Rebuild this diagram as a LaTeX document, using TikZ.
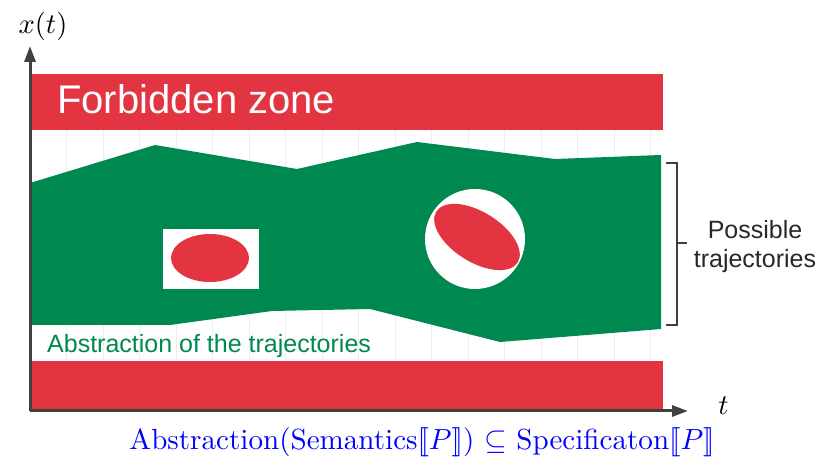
\documentclass[tikz,border=0pt]{standalone}
\usepackage{fontspec}
\usepackage{graphicx}
\newfontfamily\arialf{Liberation Sans}
\usetikzlibrary{arrows.meta}
\definecolor{zonered}{RGB}{227,52,66}
\definecolor{absgreen}{RGB}{0,136,81}
\definecolor{axisgray}{RGB}{64,64,60}
\definecolor{gridgray}{RGB}{238,238,238}
\definecolor{txtgray}{RGB}{40,40,40}
\tikzset{
  axisline/.style={draw=axisgray,line width=3pt,-{Triangle[length=16pt,width=11pt]}},
  gridline/.style={draw=gridgray,line width=0.8pt},
  zone/.style={fill=zonered},
  hole/.style={fill=white},
  blob/.style={fill=zonered},
  bracketline/.style={draw=axisgray,line width=2.5pt},
  sanslabel/.style={inner sep=0pt,font=\arialf\fontsize{25}{29}\selectfont},
  mathlabel/.style={inner sep=0pt}
}
\begin{document}
\begin{tikzpicture}[x=1pt,y=-1pt]
\useasboundingbox (0,0) rectangle (831,462);
% faint grid
\foreach \i in {1,...,17}{
  \draw[gridline] ({30+36.5*\i},74) -- ({30+36.5*\i},408);
}
% forbidden zones
\fill[zone] (30,74) rectangle (663,130);
\fill[zone] (30,361) rectangle (663,409);
% abstraction of trajectories
\fill[absgreen] (30,183) -- (155,145) -- (297,169) -- (417,142) -- (555,159) -- (661,155)
  -- (661,329) -- (500,342) -- (370,309) -- (272,311) -- (170,325) -- (30,325) -- cycle;
% left hole
\fill[hole] (163,229) rectangle (259,289);
\fill[blob] (210,258) ellipse [x radius=39, y radius=24];
% right hole
\fill[hole] (475,239) circle [radius=50];
\fill[blob] (477,237) ellipse [x radius=48, y radius=25, rotate=-32];
% axes
\coordinate (O) at (30,411);
\coordinate (Ytip) at (30,46);
\coordinate (Xtip) at (688,411);
\draw[axisline] (O) -- (Ytip);
\draw[axisline] (O) -- (Xtip);
\node[mathlabel] (xlab) at (43,26) {\scalebox{2.85}{$x(t)$}};
\node[mathlabel] (tlab) at (723.5,406) {\scalebox{2.85}{$t$}};
% bracket
\coordinate (b1) at (666,163);
\coordinate (b2) at (677,163);
\coordinate (b3) at (677,325);
\coordinate (b4) at (666,325);
\coordinate (bm) at (677,243);
\coordinate (bt) at (687,243);
\draw[bracketline] (b1) -- (b2) -- (b3) -- (b4);
\draw[bracketline] (bm) -- (bt);
% texts
\node[sanslabel,text=white,anchor=base west,font=\arialf\fontsize{40}{44}\selectfont] (fz) at (57,114) {Forbidden zone};
\node[sanslabel,text=absgreen,anchor=base west] (abs) at (47,353) {Abstraction of the trajectories};
\node[sanslabel,text=txtgray,anchor=base] (pos1) at (755,239) {Possible};
\node[sanslabel,text=txtgray,anchor=base] (pos2) at (755,268) {trajectories};
\node[inner sep=0pt,anchor=base,text=blue] (formula) at (422,450)
  {\resizebox{585pt}{!}{Abstraction(Semantics$[\![P]\!]$) $\subseteq$ Specificaton$[\![P]\!]$}};
\end{tikzpicture}
\end{document}
